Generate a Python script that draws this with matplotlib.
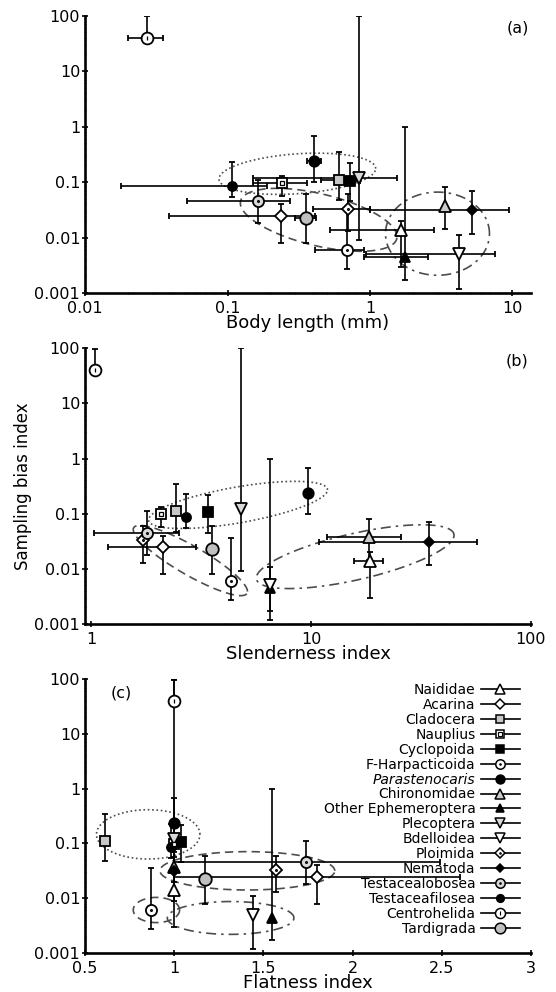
import numpy as np
import matplotlib
matplotlib.use('Agg')
import matplotlib.pyplot as plt
from matplotlib.lines import Line2D
from matplotlib.ticker import FuncFormatter, FixedLocator

plt.rcParams['font.family'] = ['DejaVu Sans']
plt.rcParams['font.size'] = 11

nan = np.nan

taxa = ['Naididae', 'Acarina', 'Cladocera', 'Nauplius', 'Cyclopoida',
        'F-Harpacticoida', 'Parastenocaris', 'Chironomidae',
        'Other Ephemeroptera', 'Plecoptera', 'Bdelloidea', 'Ploimida',
        'Nematoda', 'Testacealobosea', 'Testaceafilosea', 'Centrohelida',
        'Tardigrada']

# sampling bias index (mean, lower and upper end of bar)
bias    = [0.0139, 0.0245, 0.11, 0.097, 0.105, 0.006, 0.24, 0.037, 0.0044,
           0.12, 0.005, 0.033, 0.031, 0.045, 0.086, 40, 0.0226]
bias_lo = [0.003, 0.008, 0.047, 0.057, 0.045, 0.0027, 0.1, 0.0145, 0.0017,
           0.009, 0.0012, 0.013, 0.0117, 0.018, 0.054, 40, 0.008]
bias_hi = [0.02, 0.04, 0.35, 0.13, 0.22, 0.036, 0.68, 0.08, 1.0,
           100, 0.011, 0.06, 0.07, 0.11, 0.23, 97, 0.06]

# body length (mm)
body    = [1.64, 0.236, 0.61, 0.24, 0.72, 0.685, 0.405, 3.36, 1.76,
           0.84, 4.2, 0.706, 5.2, 0.164, 0.107, 0.027, 0.357]
body_lo = [0.52, 0.039, 0.45, 0.15, 0.6, 0.41, 0.36, nan, 0.91,
           0.15, 0.94, 0.4, 1.0, 0.052, 0.018, 0.02, 0.3]
body_hi = [2.8, 0.41, 0.78, 0.36, 0.85, 0.91, 0.45, nan, 2.55,
           1.55, 7.5, 1.0, 9.4, 0.275, 0.19, 0.035, 0.42]

# slenderness index
slender    = [18.6, 2.11, 2.43, 2.07, 3.4, 4.3, 9.7, 18.4, 6.5,
              4.8, 6.5, 1.72, 34.5, 1.79, 2.69, 1.04, 3.55]
slender_lo = [15.6, 1.19, nan, nan, nan, nan, nan, 11.8, nan,
              nan, nan, nan, 10.8, 1.03, nan, nan, nan]
slender_hi = [21.3, 3.0, nan, nan, nan, nan, nan, 25.6, nan,
              nan, nan, nan, 57, 2.5, nan, nan, nan]

# flatness index
flat    = [1.0, 1.8, 0.61, 1.0, 1.04, 0.87, 1.0, 1.0, 1.55,
           1.0, 1.44, 1.57, 1.0, 1.74, 0.98, 1.0, 1.17]
flat_lo = [nan, 1.0, nan, nan, nan, nan, nan, nan, nan,
           nan, nan, nan, nan, 1.0, nan, nan, nan]
flat_hi = [nan, 2.6, nan, nan, nan, nan, nan, nan, nan,
           nan, nan, nan, nan, 2.49, nan, nan, nan]

# marker styles
mk    = ['^', 'D', 's', 's', 's', 'o', 'o', '^', '^', 'v', 'v', 'D', 'D', 'o', 'o', 'o', 'o']
face  = ['white', 'white', '0.78', 'white', 'black', 'white', 'black', '0.8', 'black',
         '0.85', 'white', 'white', 'black', '0.85', 'black', 'white', '0.75']
msize = [8, 6, 7, 6.5, 6.5, 8, 7.5, 8, 7, 8.5, 8.5, 6, 5, 8, 6.5, 8.5, 9]
inner = [None, None, None, 's', None, '.', None, None, None, None, None, '.',
         None, '.', None, '|', None]

# grouping ellipses: (linestyle, centre x, centre log y, x radius, log y radius, shear)
ell_a = [((0, (1, 1.6)), -0.51, -0.85, 0.55, 0.36, 0.17),
         ((0, (5, 3)), -0.36, -1.68, 0.55, 0.48, -0.55),
         ((0, (6, 3, 1.5, 3)), 0.474, -1.93, 0.365, 0.75, 0.0)]
ell_b = [((0, (1, 1.6)), 0.667, -0.842, 0.407, 0.33, 0.669),
         ((0, (5, 3)), 0.45, -1.85, 0.26, 0.30, -2.16),
         ((0, (6, 3, 1.5, 3)), 1.2, -1.78, 0.45, 0.43, 0.86)]
ell_c = [((0, (1, 1.6)), 0.854, -0.835, 0.29, 0.45, 0.0),
         ((0, (5, 3)), 1.41, -1.50, 0.49, 0.35, 0.0),
         ((0, (5, 3)), 0.9, -2.215, 0.13, 0.23, 0.0),
         ((0, (6, 3, 1.5, 3)), 1.316, -2.36, 0.355, 0.30, 0.0)]


def draw_points(ax, xs, xlo, xhi):
    for i in range(len(taxa)):
        x, y = xs[i], bias[i]
        xerr = None
        if not np.isnan(xlo[i]):
            xerr = [[x - xlo[i]], [xhi[i] - x]]
        yerr = [[y - bias_lo[i]], [bias_hi[i] - y]]
        ax.errorbar([x], [y], xerr=xerr, yerr=yerr, fmt=mk[i], ms=msize[i],
                    mfc=face[i], mec='k', mew=1.3, ecolor='k', elinewidth=1.2,
                    capsize=2, capthick=1.2, zorder=3)
        if inner[i]:
            ax.plot([x], [y], inner[i], ms=2.5, color='k', mfc='white', mew=0.9, zorder=4)


def draw_ellipses(ax, ells, logx):
    t = np.linspace(0, 2 * np.pi, 300)
    for ls, cx, cy, rx, ry, k in ells:
        ex = cx + rx * np.cos(t)
        ey = cy + ry * np.sin(t) + k * rx * np.cos(t)
        if logx:
            ex = 10 ** ex
        ax.plot(ex, 10 ** ey, ls=ls, color='0.3', lw=1.2, zorder=2)


def style(ax):
    for s in ['top', 'right']:
        ax.spines[s].set_visible(False)
    for s in ['left', 'bottom']:
        ax.spines[s].set_linewidth(1.9)
    ax.set_yscale('log')
    ax.set_ylim(0.001, 100)
    ax.yaxis.set_major_locator(FixedLocator([0.001, 0.01, 0.1, 1, 10, 100]))
    ax.yaxis.set_major_formatter(FuncFormatter(lambda v, p: f'{v:g}'))
    ax.tick_params(which='major', direction='inout', length=5, width=1.2, labelsize=11.5)
    ax.tick_params(which='minor', direction='inout', length=2, width=0.7, color='0.35')
    ax.tick_params(axis='y', which='major', pad=1)
    ax.tick_params(axis='x', which='major', pad=3)


fig = plt.figure(figsize=(5.56, 9.92), dpi=100)
ax1 = fig.add_axes([0.153, 0.7046, 0.802, 0.2796])
ax2 = fig.add_axes([0.153, 0.371, 0.802, 0.278])
ax3 = fig.add_axes([0.153, 0.0393, 0.802, 0.2762])

# (a) body length
style(ax1)
ax1.set_xscale('log')
ax1.set_xlim(0.01, 13.5)
ax1.xaxis.set_major_locator(FixedLocator([0.01, 0.1, 1, 10]))
ax1.xaxis.set_major_formatter(FuncFormatter(lambda v, p: f'{v:g}'))
draw_ellipses(ax1, ell_a, True)
draw_points(ax1, body, body_lo, body_hi)
ax1.set_xlabel('Body length (mm)', fontsize=13, labelpad=-1)
ax1.text(0.995, 0.955, '(a)', transform=ax1.transAxes, ha='right', va='center', fontsize=11.5)

# (b) slenderness
style(ax2)
ax2.set_xscale('log')
ax2.set_xlim(0.935, 100)
ax2.xaxis.set_major_locator(FixedLocator([1, 10, 100]))
ax2.xaxis.set_major_formatter(FuncFormatter(lambda v, p: f'{v:g}'))
draw_ellipses(ax2, ell_b, True)
draw_points(ax2, slender, slender_lo, slender_hi)
ax2.set_xlabel('Slenderness index', fontsize=13, labelpad=-1)
ax2.set_ylabel('Sampling bias index', fontsize=12, labelpad=2)
ax2.text(0.995, 0.955, '(b)', transform=ax2.transAxes, ha='right', va='center', fontsize=11.5)

# (c) flatness
style(ax3)
ax3.set_xlim(0.5, 3)
ax3.xaxis.set_major_locator(FixedLocator([0.5, 1, 1.5, 2, 2.5, 3]))
ax3.xaxis.set_major_formatter(FuncFormatter(lambda v, p: f'{v:g}'))
draw_ellipses(ax3, ell_c, False)
draw_points(ax3, flat, flat_lo, flat_hi)
ax3.set_xlabel('Flatness index', fontsize=13, labelpad=-1)
ax3.text(0.081, 0.95, '(c)', transform=ax3.transAxes, ha='center', va='center', fontsize=11.5)

handles = []
for i in range(len(taxa)):
    h = Line2D([], [], color='k', lw=1.2, marker=mk[i], ms=msize[i] * 0.85,
               mfc=face[i], mec='k', mew=1.1)
    if inner[i]:
        h = (h, Line2D([], [], ls='none', marker=inner[i], ms=2.2, color='k', mfc='white', mew=0.8))
    handles.append(h)
leg = ax3.legend(handles, taxa, loc='upper right', bbox_to_anchor=(0.975, 0.985),
                 frameon=False, markerfirst=False, handlelength=2.8, handletextpad=0.4,
                 labelspacing=0.065, borderpad=0, borderaxespad=0, fontsize=10)
leg.get_texts()[6].set_fontstyle('italic')

fig.savefig('out.png', dpi=100)
